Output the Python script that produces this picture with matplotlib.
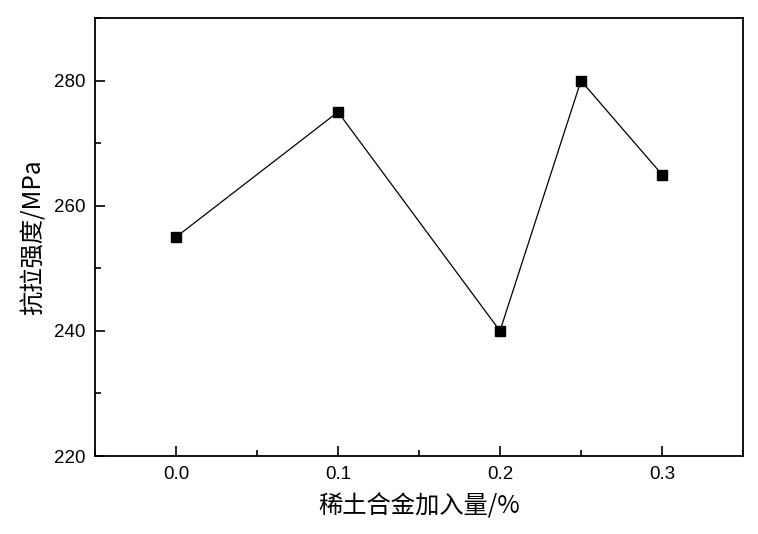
import matplotlib
matplotlib.use('Agg')
from matplotlib import pyplot as plt
from matplotlib.ticker import MultipleLocator

# 稀土合金加入量 vs 抗拉强度
x_vals = [0.0, 0.1, 0.2, 0.25, 0.3]
strength = [255, 275, 240, 280, 265]
x_ticks = [0.0, 0.1, 0.2, 0.3]
y_ticks = [220, 240, 260, 280]

plt.rcParams['font.family'] = ['Noto Sans CJK SC', 'DejaVu Sans']

fig = plt.figure(figsize=(7.58, 5.34), dpi=100)
ax = fig.add_axes([0.1253, 0.146, 0.8549, 0.820])

ax.plot(x_vals, strength, c='black', lw=0.9, marker='s', ms=7, mfc='black', mec='black')

ax.set_xlim(-0.05, 0.35)
ax.set_ylim(220, 290)
ax.set_xticks(x_ticks)
ax.set_xticklabels(['%.1f' % v for v in x_ticks], family=['Liberation Sans'])
ax.set_yticks(y_ticks)
ax.set_yticklabels([str(v) for v in y_ticks], family=['Liberation Sans'])
ax.xaxis.set_minor_locator(MultipleLocator(0.05))
ax.yaxis.set_minor_locator(MultipleLocator(10))
ax.tick_params(which='both', direction='in', top=False, right=False, labelsize=13.5, width=1.2)
ax.tick_params(which='major', length=7, pad=7)
ax.tick_params(which='minor', length=4)
for s in ax.spines.values():
    s.set_linewidth(1.3)

ax.set_xlabel('稀土合金加入量/%', fontsize=17.5, labelpad=8)
ax.set_ylabel('抗拉强度/MPa', fontsize=17.5, labelpad=5)

fig.savefig('out.png', dpi=100)
